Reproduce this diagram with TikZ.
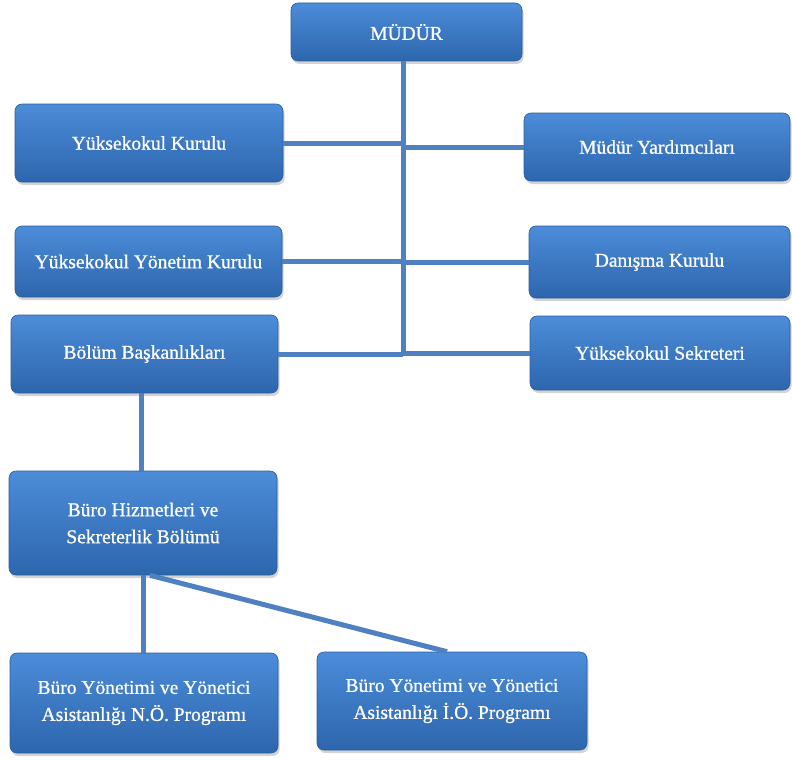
\documentclass[tikz,border=0pt]{standalone}
\usepackage{fontspec}
\setmainfont{Liberation Serif}
\newfontfamily\boxfont{Liberation Serif}[FakeBold=0.9]
\usetikzlibrary{shadows}
\definecolor{boxtop}{HTML}{4C8CD9}
\definecolor{boxbot}{HTML}{2D66AD}
\definecolor{boxline}{HTML}{2A5C9C}
\definecolor{conn}{HTML}{4F80C2}
\tikzset{
  orgbox/.style={rectangle, rounded corners=7pt, draw=boxline, line width=0.6pt,
    top color=boxtop, bottom color=boxbot, text=white, align=center,
    font=\boxfont\fontsize{19.5}{27}\selectfont, inner sep=2pt,
    drop shadow={opacity=0.35, shadow xshift=1.5pt, shadow yshift=-3pt}},
  connector/.style={draw=conn, line width=5pt}
}
\begin{document}
\begin{tikzpicture}[x=1pt,y=-1pt]
\useasboundingbox (0,0) rectangle (792,760);
\node[orgbox, minimum width=231pt, minimum height=58pt] (mudur) at (406.5,32) {MÜDÜR};
\node[orgbox, minimum width=268pt, minimum height=78pt] (ykurul) at (149,143) {Yüksekokul Kurulu};
\node[orgbox, minimum width=266pt, minimum height=68pt] (myard) at (657,147) {Müdür Yardımcıları};
\node[orgbox, minimum width=267pt, minimum height=71pt] (yyk) at (148.5,261.5) {Yüksekokul Yönetim Kurulu};
\node[orgbox, minimum width=261pt, minimum height=72pt] (danisma) at (659.5,262) {Danışma Kurulu};
\node[orgbox, minimum width=267pt, minimum height=78pt] (bolum) at (144.5,354) {Bölüm Başkanlıkları};
\node[orgbox, minimum width=260pt, minimum height=74pt] (sekreter) at (660,353) {Yüksekokul Sekreteri};
\node[orgbox, minimum width=268pt, minimum height=104pt] (buro) at (143,523) {Büro Hizmetleri ve\\Sekreterlik Bölümü};
\node[orgbox, minimum width=268pt, minimum height=100pt] (no) at (144,703) {Büro Yönetimi ve Yönetici\\Asistanlığı N.Ö. Programı};
\node[orgbox, minimum width=270pt, minimum height=98pt] (io) at (452,701) {Büro Yönetimi ve Yönetici\\Asistanlığı İ.Ö. Programı};
\coordinate (trunkend) at (403,354);
\draw[connector] (mudur.south -| trunkend) -- (trunkend);
\draw[connector] (ykurul.east) -- (ykurul.east -| trunkend);
\draw[connector] (myard.west) -- (myard.west -| trunkend);
\draw[connector] (yyk.east) -- (yyk.east -| trunkend);
\draw[connector] (danisma.west) -- (danisma.west -| trunkend);
\draw[connector] (bolum.east) -- (bolum.east -| trunkend);
\draw[connector] (sekreter.west) -- (sekreter.west -| trunkend);
\draw[connector] ([xshift=-3pt]bolum.south) -- ([xshift=-3pt]bolum.south |- buro.north);
\draw[connector] (buro.south) -- (buro.south |- no.north);
\draw[connector] ([xshift=7pt]buro.south) -- ([xshift=-5pt]io.north);
\end{tikzpicture}
\end{document}
